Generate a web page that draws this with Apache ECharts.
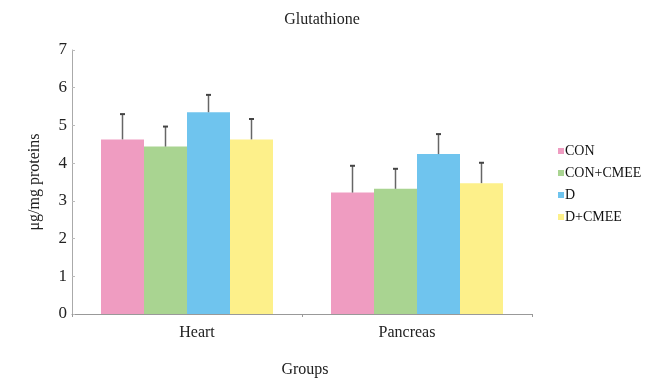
<!DOCTYPE html>
<html><head><meta charset="utf-8">
<script src="https://cdn.jsdelivr.net/npm/echarts@6/dist/echarts.min.js"></script>
<style>html,body{margin:0;padding:0;background:#fff}#c{width:659px;height:379px}</style>
</head><body><div id="c"></div>
<script>
const categories = ["Heart", "Pancreas"];
const seriesNames = ["CON", "CON+CMEE", "D", "D+CMEE"];
const conValues = [4.63, 3.22];
const conCmeeValues = [4.44, 3.32];
const dValues = [5.35, 4.24];
const dCmeeValues = [4.63, 3.47];
const conErr = [5.30, 3.93];
const conCmeeErr = [4.97, 3.85];
const dErr = [5.81, 4.77];
const dCmeeErr = [5.17, 4.01];
const yTicks = [0, 1, 2, 3, 4, 5, 6, 7];

const colors = ["#ef9cc1", "#a9d491", "#6fc4ee", "#fdf08a"];
const values = [conValues, conCmeeValues, dValues, dCmeeValues];
const errs = [conErr, conCmeeErr, dErr, dCmeeErr];
const font = "'Liberation Serif', 'DejaVu Serif', serif";

const chart = echarts.init(document.getElementById('c'));
const BW = 43;
const series = [];
values.forEach((v, i) => {
  series.push({
    name: seriesNames[i], type: 'bar', data: v, barWidth: BW, barGap: '0%',
    itemStyle: { color: colors[i] }, z: 2
  });
});
errs.forEach((e, i) => {
  series.push({
    type: 'custom', silent: true, z: 3,
    data: e.map((hi, k) => [k, values[i][k], hi]),
    renderItem: function (params, api) {
      const k = api.value(0);
      const base = api.coord([k, api.value(1)]);
      const top = api.coord([k, api.value(2)]);
      const x = base[0] + (i - 1.5) * BW;
      return { type: 'group', children: [
        { type: 'line', shape: { x1: x, y1: base[1], x2: x, y2: top[1] }, style: { stroke: '#666', lineWidth: 1.5 } },
        { type: 'line', shape: { x1: x - 2.5, y1: top[1], x2: x + 2.5, y2: top[1] }, style: { stroke: '#444', lineWidth: 2 } }
      ]};
    }
  });
});

const labStyle = { fontFamily: font, fontSize: 16, color: '#222' };
chart.setOption({
  animation: false,
  title: { text: 'Glutathione', left: 317, top: 7, textAlign: 'center',
    textStyle: { fontFamily: font, fontSize: 16, fontWeight: 'normal', color: '#222' } },
  legend: {
    data: seriesNames, orient: 'vertical', left: 553, top: 139, itemWidth: 6, itemHeight: 6,
    itemGap: 8, icon: 'rect',
    textStyle: { fontFamily: font, fontSize: 14, color: '#111', padding: [0,0,0,-4] }
  },
  grid: { left: 72, right: 127, top: 50, bottom: 65, containLabel: false, outerBoundsMode: 'none' },
  xAxis: {
    type: 'category', data: categories,
    name: 'Groups', nameLocation: 'middle', nameGap: 48,
    nameTextStyle: { fontFamily: font, fontSize: 16, color: '#222', padding: [0,0,0,6] },
    axisLine: { lineStyle: { color: '#999' } },
    axisTick: { show: true, length: 3, lineStyle: { color: '#999' } },
    axisLabel: { margin: 11,
      formatter: (v, i) => i === 0 ? '{a|' + v + '}' : '{b|' + v + '}',
      rich: { a: Object.assign({ padding: [0,0,0,20] }, labStyle),
              b: Object.assign({ padding: [0,20,0,0] }, labStyle) } }
  },
  yAxis: {
    type: 'value', min: 0, max: 7, interval: 1,
    name: 'μg/mg proteins', nameLocation: 'middle', nameGap: 29, nameRotate: 90,
    nameTextStyle: { fontFamily: font, fontSize: 16, color: '#222' },
    axisLine: { show: true, lineStyle: { color: '#aaa' } },
    axisTick: { show: true, inside: true, length: 3, lineStyle: { color: '#bbb' } },
    splitLine: { show: false },
    axisLabel: { fontFamily: font, fontSize: 17, color: '#222', margin: 5,
      formatter: v => yTicks.includes(v) ? String(v) : '' }
  },
  series: series
});
</script></body></html>
